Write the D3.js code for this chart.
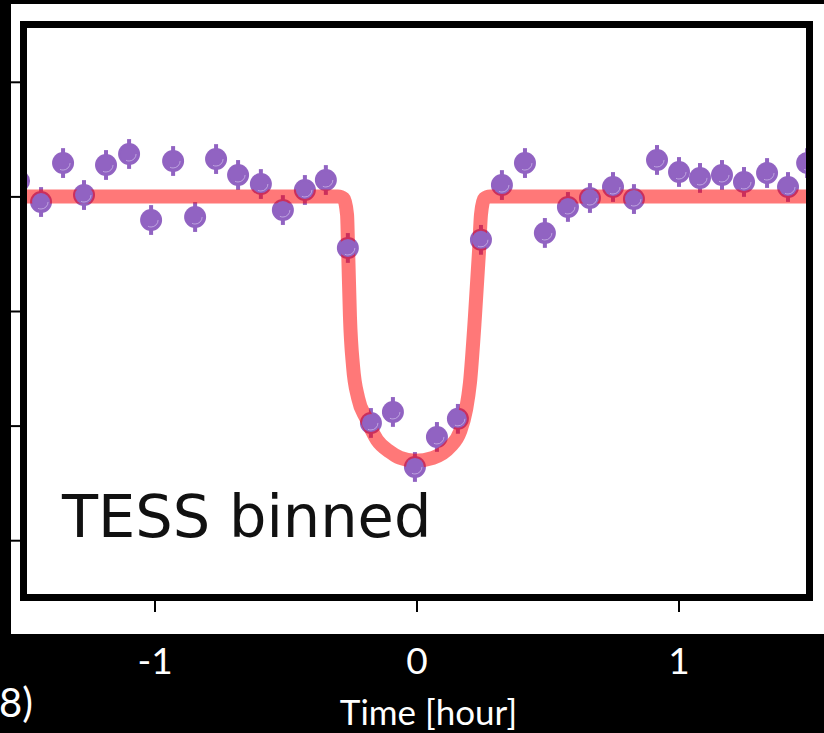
<!DOCTYPE html>
<html>
<head>
<meta charset="utf-8">
<script src="https://cdn.jsdelivr.net/npm/d3@7"></script>
<style>
  body { margin: 0; background: #000; }
  svg { display: block; }
</style>
</head>
<body>
<div id="chart"></div>
<script>
// binned TESS points: time from mid-transit (hours) and relative flux (ppt)
var binTime = [-1.517, -1.433, -1.349, -1.269, -1.185, -1.097, -1.013, -0.929, -0.845,
    -0.765, -0.681, -0.594, -0.510, -0.426, -0.346, -0.262, -0.174, -0.090, -0.006,
    0.078, 0.158, 0.246, 0.326, 0.414, 0.490, 0.578, 0.662, 0.750, 0.830, 0.918,
    1.002, 1.082, 1.166, 1.250, 1.338, 1.418, 1.491];
var binFlux = [0.134, -0.049, 0.291, 0.012, 0.274, 0.370, -0.206, 0.309, -0.180,
    0.326, 0.187, 0.108, -0.119, 0.056, 0.143, -0.450, -1.977, -1.881, -2.361,
    -2.099, -1.941, -0.379, 0.099, 0.291, -0.319, -0.092, -0.014, 0.082, -0.023, 0.318,
    0.213, 0.161, 0.187, 0.126, 0.204, 0.082, 0.291];
var binErr = 0.13;

// transit model curve
var modelTime = [-1.498, -0.300, -0.277, -0.265, -0.261, -0.254, -0.242, -0.223, -0.193,
    -0.151, -0.101, -0.063, -0.006, 0.063, 0.128, 0.166, 0.189, 0.204, 0.223,
    0.239, 0.246, 0.258, 0.281, 1.498];
var modelFlux = [0, 0, -0.022, -0.161, -0.466, -1.051, -1.487, -1.758, -1.932,
    -2.124, -2.229, -2.281, -2.307, -2.281, -2.185, -2.054, -1.862, -1.627, -1.051,
    -0.466, -0.161, -0.022, 0, 0];

var xTicks = [-1, 0, 1];
var yTicks = [-3, -2, -1, 0, 1];

var width = 824, height = 733;

var svg = d3.select("#chart").append("svg")
    .attr("width", width).attr("height", height);

// white slide panel behind the plot
svg.append("rect")
    .attr("x", 11).attr("y", 4)
    .attr("width", width - 11).attr("height", 630)
    .attr("fill", "#fff");

// plot frame (stroke centre line)
var frame = { left: 23.5, right: 809.5, top: 24.5, bottom: 597.5 };

var xScale = d3.scaleLinear().domain([-1.5, 1.5]).range([frame.left, frame.right]);
var yScale = d3.scaleLinear().domain([-3.5, 1.5]).range([frame.bottom, frame.top]);

svg.append("clipPath").attr("id", "plotClip")
    .append("rect")
    .attr("x", frame.left + 3.5).attr("y", frame.top + 3.5)
    .attr("width", frame.right - frame.left - 7)
    .attr("height", frame.bottom - frame.top - 7);

var plot = svg.append("g").attr("clip-path", "url(#plotClip)");

var points = binTime.map((t, i) => ({ t: t, f: binFlux[i] }));
var purple = "#9163c2";

// error bars
plot.selectAll("line.err").data(points).enter()
    .append("line")
    .attr("class", "err")
    .attr("x1", d => xScale(d.t)).attr("x2", d => xScale(d.t))
    .attr("y1", d => yScale(d.f - binErr)).attr("y2", d => yScale(d.f + binErr))
    .attr("stroke", purple).attr("stroke-width", 4);

// full markers under the model line
plot.selectAll("circle.under").data(points).enter()
    .append("circle")
    .attr("class", "under")
    .attr("cx", d => xScale(d.t)).attr("cy", d => yScale(d.f))
    .attr("r", 11)
    .attr("fill", purple);

var model = modelTime.map((t, i) => ({ t: t, f: modelFlux[i] }));
var line = d3.line()
    .x(d => xScale(d.t))
    .y(d => yScale(d.f))
    .curve(d3.curveMonotoneX);

plot.append("path")
    .datum(model)
    .attr("d", line)
    .attr("fill", "none")
    .attr("stroke", "rgb(255,0,0)")
    .attr("stroke-opacity", 0.53)
    .attr("stroke-width", 14)
    .attr("stroke-linejoin", "round");

// marker cores on top of the line
plot.selectAll("circle.over").data(points).enter()
    .append("circle")
    .attr("class", "over")
    .attr("cx", d => xScale(d.t)).attr("cy", d => yScale(d.f))
    .attr("r", 9)
    .attr("fill", purple);

plot.selectAll("circle.shine").data(points).enter()
    .append("circle")
    .attr("class", "shine")
    .attr("cx", d => xScale(d.t)).attr("cy", d => yScale(d.f))
    .attr("r", 7)
    .attr("fill", "none")
    .attr("stroke", "#c9b3e6")
    .attr("stroke-width", 1)
    .attr("stroke-dasharray", "14 40")
    .attr("stroke-opacity", 0.8);

// panel label
svg.append("text")
    .attr("x", 62).attr("y", 537)
    .attr("font-family", "DejaVu Sans")
    .attr("font-size", 59)
    .attr("fill", "#111")
    .text("TESS binned");

// frame
svg.append("rect")
    .attr("x", frame.left).attr("y", frame.top)
    .attr("width", frame.right - frame.left)
    .attr("height", frame.bottom - frame.top)
    .attr("fill", "none")
    .attr("stroke", "#000")
    .attr("stroke-width", 7);

// tick marks
var xAxis = d3.axisBottom(xScale).tickValues(xTicks).tickSize(11).tickFormat("");
svg.append("g")
    .attr("transform", `translate(0, ${frame.bottom + 3.5})`)
    .call(xAxis)
    .call(g => g.select(".domain").remove())
    .call(g => g.selectAll(".tick line").attr("stroke", "#000").attr("stroke-width", 2));

var yAxis = d3.axisLeft(yScale).tickValues(yTicks).tickSize(12).tickFormat("");
svg.append("g")
    .attr("transform", `translate(${frame.left - 3.5}, 0)`)
    .call(yAxis)
    .call(g => g.select(".domain").remove())
    .call(g => g.selectAll(".tick line").attr("stroke", "#000").attr("stroke-width", 2));

// white tick labels on the slide
var xLabels = d3.axisBottom(xScale).tickValues(xTicks).tickSize(0)
    .tickFormat(d => d3.format("d")(d).replace("−", "-"));
svg.append("g")
    .attr("transform", "translate(0, 648)")
    .call(xLabels)
    .call(g => g.select(".domain").remove())
    .call(g => g.selectAll(".tick text")
        .attr("fill", "#fff")
        .attr("font-family", "Lato")
        .attr("font-size", 37)
        .attr("y", 0).attr("dy", "0.71em"));

svg.append("text")
    .attr("x", xScale(0) + 12).attr("y", 725)
    .attr("text-anchor", "middle")
    .attr("font-family", "Lato")
    .attr("font-size", 35)
    .attr("fill", "#fff")
    .text("Time [hour]");

svg.append("text")
    .attr("x", -1).attr("y", 717)
    .attr("font-family", "Lato")
    .attr("font-size", 40)
    .attr("fill", "#fff")
    .text("8)");
</script>
</body>
</html>
